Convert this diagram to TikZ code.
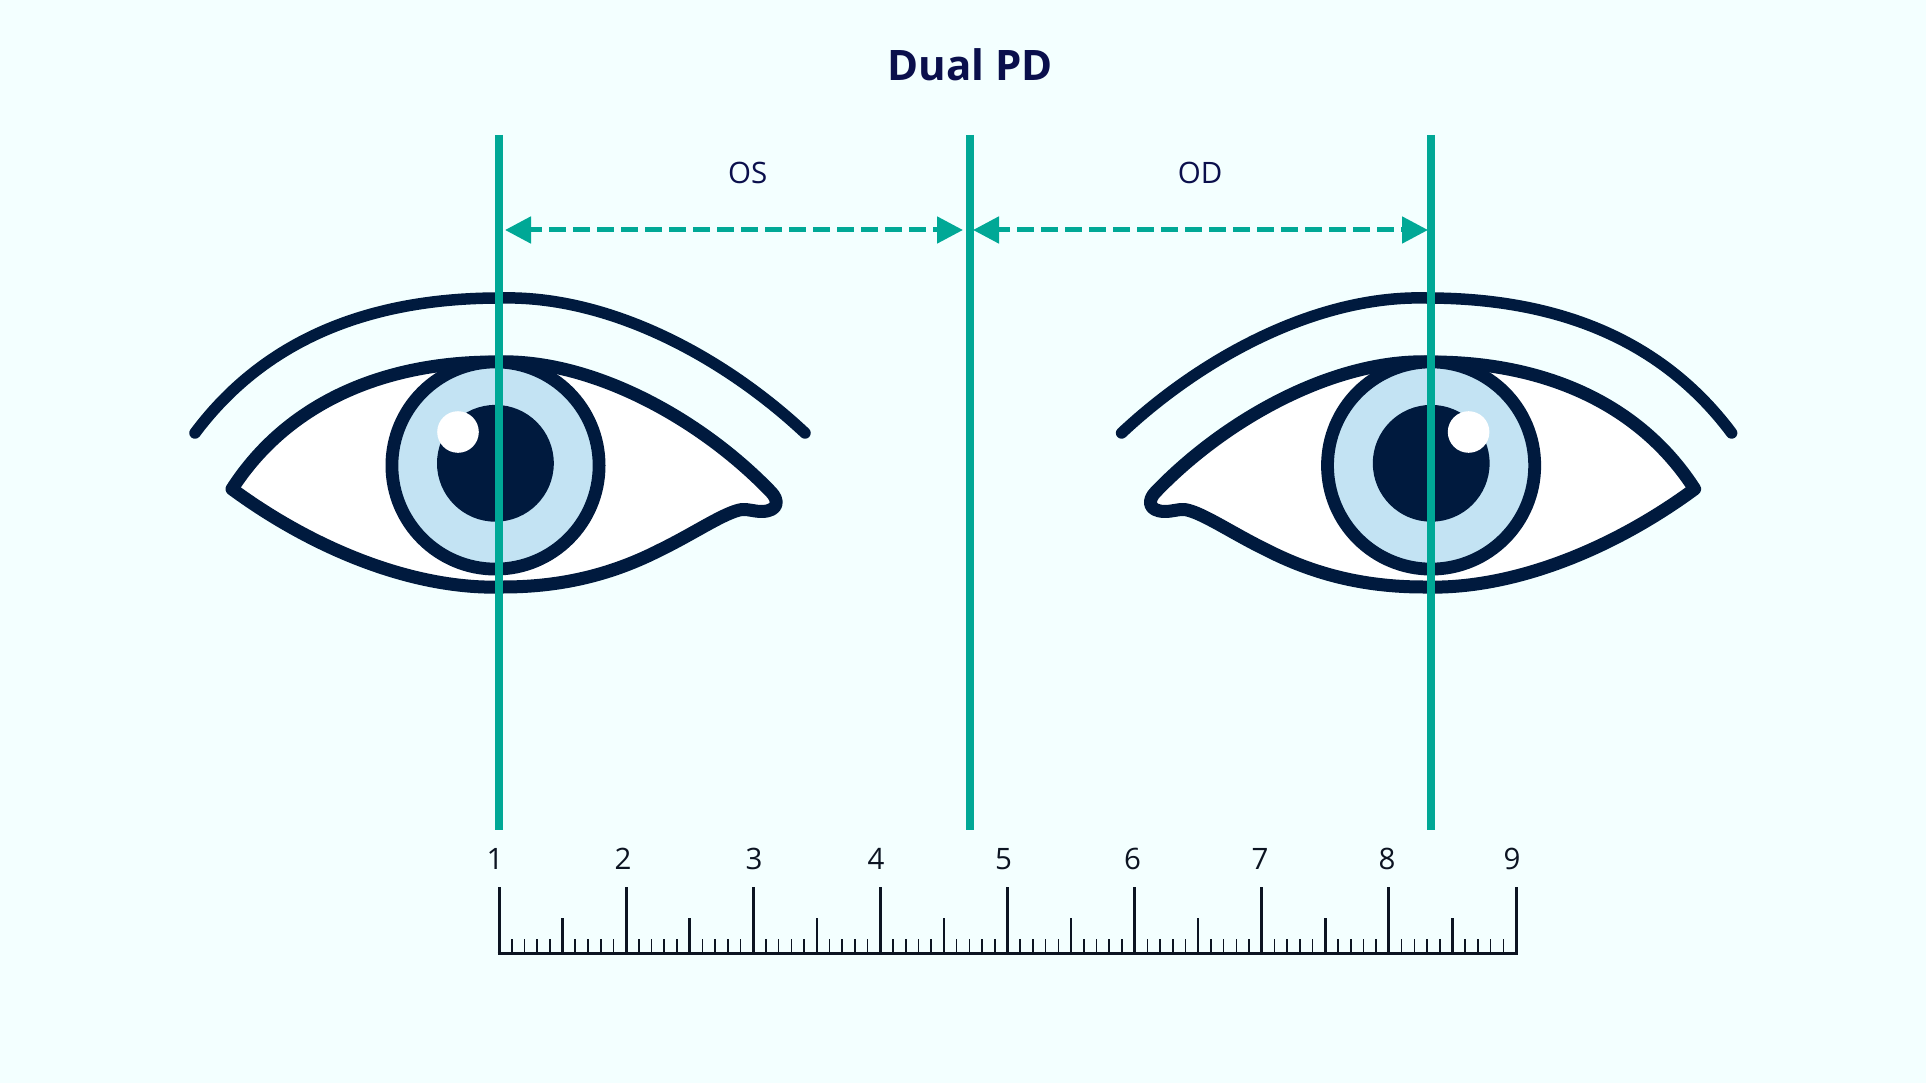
\documentclass[tikz,border=0pt]{standalone}
\usepackage{fontspec}
\setmainfont{Open Sans}
\usetikzlibrary{arrows.meta}
\definecolor{bgc}{HTML}{F3FFFF}
\definecolor{navy}{HTML}{001A3E}
\definecolor{teal}{HTML}{00A896}
\definecolor{iris}{HTML}{C3E3F3}
\definecolor{ink}{HTML}{0A0F4C}
\definecolor{rulerc}{HTML}{0C1422}
\tikzset{
  x=1pt,y=-1pt,
  brow/.style={draw=navy,line width=11.5pt,line cap=round},
  lid/.style={draw=navy,fill=white,line width=13pt,line join=round},
  irisdisc/.style={draw=navy,fill=iris,line width=12.8pt},
  pupil/.style={fill=navy},
  glint/.style={fill=white},
  guide/.style={draw=teal,line width=7.7pt},
  span/.style={draw=teal,line width=5pt,dash pattern=on 16.7pt off 7.3pt,dash phase=4.7pt,{Triangle[length=26pt,width=26pt]}-{Triangle[length=26pt,width=26pt]}},
  lab/.style={text=ink,font=\fontsize{29.5}{29.5}\selectfont,inner sep=0pt},
  num/.style={text=rulerc,font=\fontsize{29.5}{29.5}\selectfont,inner sep=0pt},
  ttl/.style={text=ink,font=\fontsize{42}{42}\selectfont\bfseries,inner sep=0pt},
  tickmaj/.style={draw=rulerc,line width=3pt},
  tickmid/.style={draw=rulerc,line width=2.4pt},
  tickmin/.style={draw=rulerc,line width=1.6pt},
}
\newcommand{\eyeart}{%
  \draw[brow] (195,433) .. controls (272,330) and (385,298) .. (500,298) .. controls (610,295) and (725,358) .. (805,433);
  \draw[lid] (232,489) .. controls (288,402) and (385,362) .. (495,362) .. controls (590,358) and (700,418) .. (771,492) .. controls (779,500) and (779,511) .. (762,511.5) .. controls (754,511.5) and (748,509) .. (742,509.5) .. controls (725,512) and (695,533) .. (660,550) .. controls (615,573) and (565,587) .. (503,587) .. controls (415,590) and (315,550) .. (232,489) -- cycle;
  \draw[irisdisc] (495.5,465.5) circle[radius=103.6];
  \fill[pupil] (495.4,463.3) circle[radius=58.4];
  \fill[glint] (458,432) circle[radius=20.8];
}
\begin{document}
\begin{tikzpicture}
\useasboundingbox (0,0) rectangle (1926,1083);
\fill[bgc] (0,0) rectangle (1926,1083);
\eyeart
\begin{scope}[xscale=-1,xshift=-1926.6pt]
\eyeart
\end{scope}
% guides
\coordinate (g1t) at (499,135); \coordinate (g1b) at (499,830);
\coordinate (g2t) at (970,135); \coordinate (g2b) at (970,830);
\coordinate (g3t) at (1431,135); \coordinate (g3b) at (1431,830);
\draw[guide] (g1t) -- (g1b);
\draw[guide] (g2t) -- (g2b);
\draw[guide] (g3t) -- (g3b);
% spans
\coordinate (a1) at (505,230); \coordinate (a2) at (963,230);
\coordinate (b1) at (973,230); \coordinate (b2) at (1428,230);
\draw[span] (a1) -- (a2);
\draw[span] (b1) -- (b2);
% text
\node[ttl] (title) at (970,65) {Dual PD};
\node[lab] (os) at (747.7,173) {OS};
\node[lab] (od) at (1200,173) {OD};
% ruler
\coordinate (r0) at (497.6,953.3); \coordinate (r1) at (1517.5,953.3);
\foreach \i in {0,...,79}{
  \pgfmathsetmacro{\tx}{499+12.7125*\i}
  \draw[tickmin] (\tx,953) -- (\tx,939);
}
\foreach \i in {0,...,7}{
  \pgfmathsetmacro{\tx}{499+127.125*\i+63.5625}
  \draw[tickmid] (\tx,953) -- (\tx,918);
}
\foreach \i in {0,...,8}{
  \pgfmathsetmacro{\tx}{499+127.125*\i}
  \draw[tickmaj] (\tx,954) -- (\tx,887);
}
\draw[draw=rulerc,line width=3pt] (r0) -- (r1);
\node[num] (n1) at (495,859) {1};
\node[num] (n2) at (623,859) {2};
\node[num] (n3) at (754,859) {3};
\node[num] (n4) at (876,859) {4};
\node[num] (n5) at (1003.5,859) {5};
\node[num] (n6) at (1132.5,859) {6};
\node[num] (n7) at (1260,859) {7};
\node[num] (n8) at (1387,859) {8};
\node[num] (n9) at (1512,859) {9};
\end{tikzpicture}
\end{document}
